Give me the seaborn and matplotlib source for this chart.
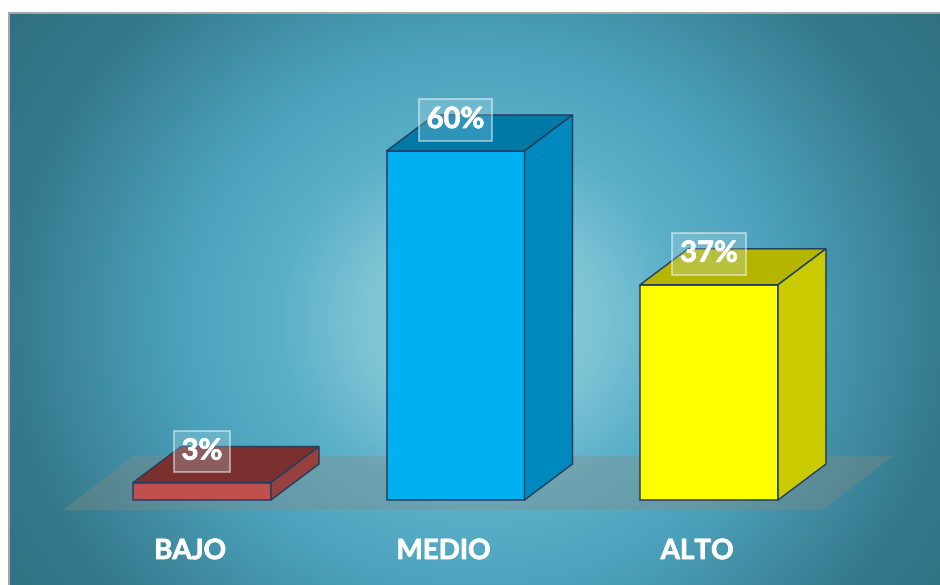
import numpy as np
import pandas as pd
import matplotlib
matplotlib.use("Agg")
import matplotlib.pyplot as plt
import seaborn as sns
from matplotlib.patches import Polygon
from matplotlib.colors import to_rgb
import matplotlib.patheffects as pe

# ---- data ----
categories = ["BAJO", "MEDIO", "ALTO"]
values = [3, 60, 37]
value_labels = ["3%", "60%", "37%"]
front_colors = ["#C0504D", "#00B0F0", "#FFFF00"]
top_colors = ["#7A302E", "#0079A6", "#B5B500"]
side_colors = ["#97403D", "#0089BE", "#CACA00"]

sns.set_theme(style="white")
plt.rcParams['font.family'] = ['Lato', 'DejaVu Sans']

W, H = 940, 585
fig = plt.figure(figsize=(9.4, 5.85), dpi=100)
fig.patch.set_facecolor('white')

px0, py0 = 9, 13
rect = [px0 / W, 0, (W - px0) / W, (H - py0) / H]

# ---- background panel with radial gradient ----
bg_ax = fig.add_axes(rect)
yy, xx = np.mgrid[py0:H, px0:W]
d = np.hypot((xx - 480) * 1.0, (yy - 320) * 1.1)
nodes = [0, 120, 200, 300, 470, 640]
cols = ['#9CD5E3', '#7CC3D4', '#5BB0C9', '#4CA2BC', '#35798C', '#2B6C7D']
rgb = np.array([to_rgb(c) for c in cols])
img = np.stack([np.interp(d, nodes, rgb[:, i]) for i in range(3)], axis=-1)
bg_ax.imshow(img, aspect='auto', extent=[0, 1, 0, 1], origin='upper')
bg_ax.set_xticks([]); bg_ax.set_yticks([])
for s in ['right', 'bottom']:
    bg_ax.spines[s].set_visible(False)
for s in ['top', 'left']:
    bg_ax.spines[s].set_color('#A6A6A6')
    bg_ax.spines[s].set_linewidth(1.5)

# ---- main axes ----
ax = fig.add_axes(rect)
ax.patch.set_alpha(0)
SX, SY = 253.5, 5.817          # pixels per data unit
X0PIX, Y0PIX = 202, 500       # pixel position of category 0 / value 0

df = pd.DataFrame({"cat": categories, "val": values})
EDGE = "#243F60"
sns.barplot(data=df, x="cat", y="val", hue="cat", palette=front_colors,
            width=138 / SX, ax=ax, legend=False, saturation=1,
            edgecolor=EDGE, linewidth=1.1, zorder=3)

ax.set_xlim((px0 - X0PIX) / SX, (W - X0PIX) / SX)
ax.set_ylim((Y0PIX - H) / SY, (Y0PIX - py0) / SY)
ax.set_axis_off()

# floor
fy0, fy1 = (Y0PIX - 510) / SY, (Y0PIX - 456) / SY
fxl, fxr = (63 - X0PIX) / SX, (823 - X0PIX) / SX
fdx = 70 / SX
ax.add_patch(Polygon([(fxl, fy0), (fxr, fy0), (fxr + fdx, fy1), (fxl + fdx, fy1)],
                     closed=True, facecolor='#8A8A80', alpha=0.35, edgecolor='none', zorder=1))

DX, DY = 48 / SX, 36 / SY
for p in list(ax.patches):
    if not hasattr(p, "get_width"):
        continue
    x0, w, h = p.get_x(), p.get_width(), p.get_height()
    i = int(round(x0 + w / 2))
    top = Polygon([(x0, h), (x0 + w, h), (x0 + w + DX, h + DY), (x0 + DX, h + DY)],
                  closed=True, facecolor=top_colors[i], edgecolor=EDGE, lw=1.1, zorder=3)
    side = Polygon([(x0 + w, 0), (x0 + w + DX, DY), (x0 + w + DX, h + DY), (x0 + w, h)],
                   closed=True, facecolor=side_colors[i], edgecolor=EDGE, lw=1.1, zorder=3)
    ax.add_patch(top)
    ax.add_patch(side)
    ax.text(x0 + w / 2, h + 31 / SY, value_labels[i], ha='center', va='center',
            fontsize=21, fontweight='bold', color='white', zorder=6,
            path_effects=[pe.withStroke(linewidth=0.6, foreground='white')],
            bbox=dict(boxstyle='square,pad=0.27', fc=(0.75, 0.9, 0.95, 0.25),
                      ec=(1, 1, 1, 0.55), lw=1.2))

for i, c in enumerate(categories):
    ax.text(i - 12 / SX, (Y0PIX - 551) / SY, c, ha='center', va='center',
            fontsize=20, fontweight='bold', color='white', zorder=6,
            path_effects=[pe.withStroke(linewidth=0.6, foreground='white')])

fig.savefig("out.png", dpi=100, facecolor='white')
